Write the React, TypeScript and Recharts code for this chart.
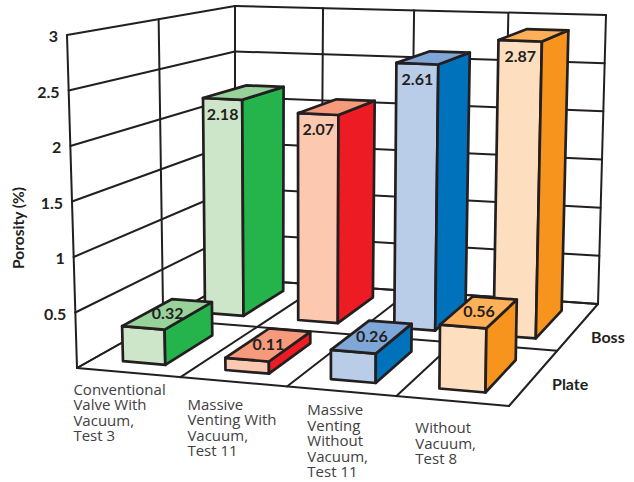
import { BarChart, Bar, XAxis, YAxis, Customized } from "recharts"

const categories = [
  "Conventional\nValve With\nVacuum,\nTest 3",
  "Massive\nVenting With\nVacuum,\nTest 11",
  "Massive\nVenting\nWithout\nVacuum,\nTest 11",
  "Without\nVacuum,\nTest 8",
]
const plateValues = [0.32, 0.11, 0.26, 0.56]
const bossValues = [2.18, 2.07, 2.61, 2.87]
const porosityTicks = [0.5, 1, 1.5, 2, 2.5, 3]

const chartData = categories.map((name, i) => ({
  name,
  plate: plateValues[i],
  boss: bossValues[i],
}))

const WIDTH = 634
const HEIGHT = 482
const MAX_POROSITY = 3
const BAR_SIZE = 66
const INK = "#231f20"
const FONT = "Lato, 'Open Sans', sans-serif"

// front, side and top colours of each category's box
const palette = [
  { front: "#cde6c9", side: "#25b34b", top: "#98d29b" },
  { front: "#fdc8b0", side: "#ed1c24", top: "#f79a7c" },
  { front: "#b9cde9", side: "#0072bc", top: "#7ea7d8" },
  { front: "#fddfbf", side: "#f7941d", top: "#fdb058" },
]

// Box corners of the plot volume: [x, y, w] with w the homogeneous weight.
// Index bits: u (across), v (into the page).
const floorCorners = [
  [77, 368, 1],
  [509, 406, 0.946],
  [235, 279, 1.2],
  [598, 304, 1.12],
]
const ceilingCorners = [
  [67, 35, 1],
  [515, 54, 0.946],
  [235, 6, 1.2],
  [606, 15, 1.12],
]

// u, v in 0..1, h in porosity units
const project = (u: number, v: number, h: number): [number, number] => {
  const t = h / MAX_POROSITY
  let x = 0
  let y = 0
  let w = 0
  floorCorners.forEach((floor, i) => {
    const ceil = ceilingCorners[i]
    const k = (i & 1 ? u : 1 - u) * (i & 2 ? v : 1 - v)
    const pw = floor[2] * k
    x += (floor[0] * (1 - t) + ceil[0] * t) * pw
    y += (floor[1] * (1 - t) + ceil[1] * t) * pw
    w += pw
  })
  return [x / w, y / w]
}

const toPath = (pts: [number, number][]) =>
  "M" + pts.map((p) => `${p[0].toFixed(1)},${p[1].toFixed(1)}`).join("L") + "Z"

const GridLine = ({ from, to }: { from: [number, number]; to: [number, number] }) => (
  <line x1={from[0]} y1={from[1]} x2={to[0]} y2={to[1]} stroke={INK} strokeWidth={2} strokeLinecap="round" />
)

const WallsAndFloor = () => {
  const slots = [0, 0.25, 0.5, 0.75, 1]
  const rows = [0, 0.5, 1]
  return (
    <g>
      {[0, ...porosityTicks].map((h) => (
        <g key={h}>
          <GridLine from={project(0, 0, h)} to={project(0, 1, h)} />
          <GridLine from={project(0, 1, h)} to={project(1, 1, h)} />
        </g>
      ))}
      {rows.map((v) => (
        <g key={v}>
          <GridLine from={project(0, v, 0)} to={project(0, v, MAX_POROSITY)} />
          <GridLine from={project(0, v, 0)} to={project(1, v, 0)} />
        </g>
      ))}
      {slots.map((u) => (
        <g key={u}>
          <GridLine from={project(u, 1, 0)} to={project(u, 1, MAX_POROSITY)} />
          <GridLine from={project(u, 0, 0)} to={project(u, 1, 0)} />
        </g>
      ))}
      <text
        transform="translate(24 228) rotate(-90)"
        textAnchor="middle"
        fontFamily={FONT}
        fontWeight={700}
        fontSize={15.5}
        fill={INK}
      >
        Porosity (%)
      </text>
      <text x={591} y={343} fontFamily={FONT} fontWeight={700} fontSize={16} fill={INK}>
        Boss
      </text>
      <text x={552} y={390} fontFamily={FONT} fontWeight={700} fontSize={16} fill={INK}>
        Plate
      </text>
    </g>
  )
}

// Draws one bar of a row as a box, taking the bar rectangle from the axes' scales
const makeBox = (dataKey: "plate" | "boss", vNear: number, vFar: number, labelOnTop: boolean) => (props: any) => {
  const { x, width, height, index, payload } = props
  const u0 = x / WIDTH
  const u1 = (x + width) / WIDTH
  const h = (height / HEIGHT) * MAX_POROSITY
  const colors = palette[index]
  const a = project(u0, vNear, 0)
  const b = project(u1, vNear, 0)
  const c = project(u1, vFar, 0)
  const at = project(u0, vNear, h)
  const bt = project(u1, vNear, h)
  const ct = project(u1, vFar, h)
  const dt = project(u0, vFar, h)
  const stroke = { stroke: INK, strokeWidth: 2.7, strokeLinejoin: "round" as const }
  const lx = labelOnTop ? (at[0] + bt[0] + ct[0] + dt[0]) / 4 : (at[0] + bt[0]) / 2
  const ly = labelOnTop ? (at[1] + bt[1] + ct[1] + dt[1]) / 4 + 5 : (at[1] + bt[1]) / 2 + 21
  return (
    <g>
      <path d={toPath([a, b, bt, at])} fill={colors.front} {...stroke} />
      <path d={toPath([b, c, ct, bt])} fill={colors.side} {...stroke} />
      <path d={toPath([at, bt, ct, dt])} fill={colors.top} {...stroke} />
      <text x={lx} y={ly} textAnchor="middle" fontFamily={FONT} fontWeight={700} fontSize={16} fill={INK}>
        {payload[dataKey].toFixed(2)}
      </text>
    </g>
  )
}

const PorosityTick = ({ y, payload }: any) => {
  const h = ((HEIGHT - y) / HEIGHT) * MAX_POROSITY
  const [wx, wy] = project(0, 0, h)
  return (
    <text x={wx - 9} y={wy + 7} textAnchor="end" fontFamily={FONT} fontWeight={700} fontSize={16} fill={INK}>
      {payload.value}
    </text>
  )
}

// label block offsets from the foot of each category on the floor edge
const labelOffsets = [
  [-55, 22],
  [-46, 28],
  [-34, 24],
  [-37, 32],
]

const CategoryTick = ({ x, index, payload }: any) => {
  const [fx, fy] = project(x / WIDTH, 0, 0)
  const [dx, dy] = labelOffsets[index]
  return (
    <text fontFamily="'Open Sans', sans-serif" fontSize={15} fill="#414042">
      {String(payload.value)
        .split("\n")
        .map((line, i) => (
          <tspan key={i} x={fx + dx} y={fy + dy + i * 15.5}>
            {line}
          </tspan>
        ))}
    </text>
  )
}

export default function App() {
  return (
    <div style={{ position: "absolute", left: 0, top: 0, width: WIDTH, height: HEIGHT }}>
      <BarChart
        width={WIDTH}
        height={HEIGHT}
        data={chartData}
        margin={{ top: 0, right: 0, bottom: 0, left: 0 }}
        barSize={BAR_SIZE}
        barGap={-BAR_SIZE}
      >
        <Customized component={WallsAndFloor} />
        <XAxis dataKey="name" mirror height={30} axisLine={false} tickLine={false} interval={0} tick={CategoryTick} />
        <YAxis
          mirror
          width={40}
          domain={[0, MAX_POROSITY]}
          ticks={porosityTicks}
          axisLine={false}
          tickLine={false}
          interval={0}
          tick={PorosityTick}
        />
        <Bar dataKey="boss" isAnimationActive={false} shape={makeBox("boss", 0.6, 0.9, false)} />
        <Bar dataKey="plate" isAnimationActive={false} shape={makeBox("plate", 0.09, 0.385, true)} />
      </BarChart>
    </div>
  )
}
